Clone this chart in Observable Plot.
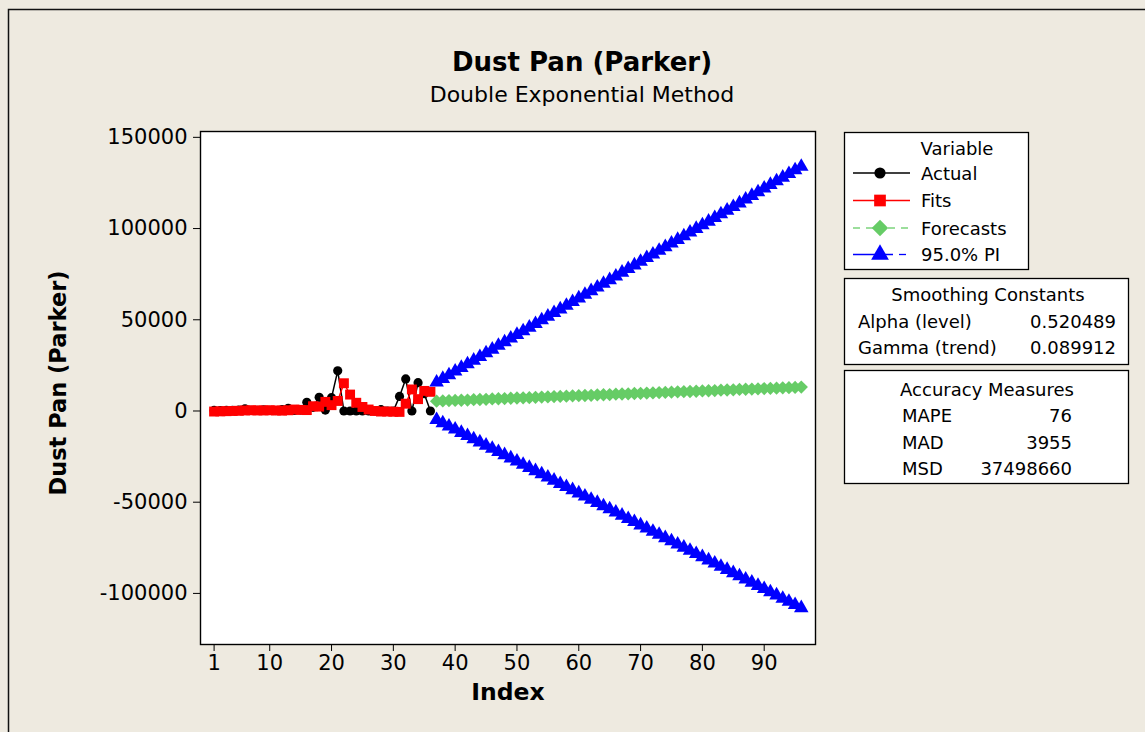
<!DOCTYPE html>
<html>
<head>
<meta charset="utf-8">
<script src="https://cdn.jsdelivr.net/npm/d3@7"></script>
<script src="https://cdn.jsdelivr.net/npm/@observablehq/plot@0.6"></script>
<style>
  html, body { margin: 0; padding: 0; background: #EEEAE0; }
  svg { display: block; }
</style>
</head>
<body>
<div id="chart"></div>
<script>
// ---- Data ----
const actual = [300, 200, 400, 300, 500, 1200, 300, 400, 600, 300, 200, 800, 1500, 300, 500,
  4800, 2000, 7500, 500, 7300, 22000, 0, 0, 0, 0, 0, 0, 700, 0, 0,
  8000, 17600, 0, 15500, 9500, 0];
const fits = [-300, -200, -100, 0, 100, 300, 400, 300, 300, 400, 300, 200, 400, 800, 600,
  500, 2600, 2400, 5000, 3200, 5500, 15200, 9000, 4500, 2200, 800, 0, -300, -300, -400,
  -500, 4000, 11800, 6500, 11000, 10500];
const forecastStart = 37;
const forecasts = [5400, 5500, 5700, 5800, 5900, 6000, 6200, 6300, 6400, 6600,
  6700, 6800, 7000, 7100, 7200, 7300, 7500, 7600, 7700, 7900,
  8000, 8100, 8300, 8400, 8500, 8600, 8800, 8900, 9000, 9200,
  9300, 9400, 9600, 9700, 9800, 9900, 10100, 10200, 10300, 10500,
  10600, 10700, 10800, 11000, 11100, 11200, 11400, 11500, 11600, 11800,
  11900, 12000, 12100, 12300, 12400, 12500, 12700, 12800, 12900, 13100];
const upperPI = [15700, 17700, 19700, 21700, 23700, 25700, 27700, 29700, 31700, 33700,
  35800, 37800, 39800, 41800, 43800, 45800, 47800, 49800, 51800, 53800,
  55800, 57800, 59800, 61800, 63800, 65800, 67800, 69800, 71800, 73800,
  75900, 77900, 79900, 81900, 83900, 85900, 87900, 89900, 91900, 93900,
  95900, 97900, 99900, 101900, 103900, 105900, 107900, 109900, 111900, 113900,
  116000, 118000, 120000, 122000, 124000, 126000, 128000, 130000, 132000, 134000];
const lowerPI = [-4900, -6600, -8400, -10100, -11900, -13600, -15400, -17100, -18900, -20600,
  -22400, -24100, -25900, -27600, -29400, -31100, -32900, -34600, -36400, -38100,
  -39900, -41600, -43300, -45100, -46800, -48600, -50300, -52100, -53800, -55600,
  -57300, -59100, -60800, -62600, -64300, -66100, -67800, -69600, -71300, -73100,
  -74800, -76500, -78300, -80000, -81800, -83500, -85300, -87000, -88800, -90500,
  -92300, -94000, -95800, -97500, -99300, -101000, -102800, -104500, -106300, -108000];
const xTicks = [1, 10, 20, 30, 40, 50, 60, 70, 80, 90];
const yTicks = [-100000, -50000, 0, 50000, 100000, 150000];

const title = "Dust Pan (Parker)";
const subtitle = "Double Exponential Method";
const xLabel = "Index";
const yLabel = "Dust Pan (Parker)";
const legendTitle = "Variable";
const seriesNames = ["Actual", "Fits", "Forecasts", "95.0% PI"];
const smoothingLabels = ["Alpha (level)", "Gamma (trend)"];
const smoothingValues = ["0.520489", "0.089912"];
const accuracyLabels = ["MAPE", "MAD", "MSD"];
const accuracyValues = ["76", "3955", "37498660"];

// ---- Build tables ----
const actualData = actual.map((v, k) => ({i: k + 1, v}));
const fitsData = fits.map((v, k) => ({i: k + 1, v}));
const fcData = forecasts.map((v, k) => ({i: k + forecastStart, v}));
const upData = upperPI.map((v, k) => ({i: k + forecastStart, v}));
const loData = lowerPI.map((v, k) => ({i: k + forecastStart, v}));

const colors = {actual: "#000000", fits: "#FF0000", fc: "#66CC66", pi: "#0000FF"};
const FONT = "DejaVu Sans, Verdana, sans-serif";
const R = {circle: 4.6, square: 5.6, diamond: 6.0, triangle: 5.4};
const RL = {circle: 5.6, square: 6.6, diamond: 7.4, triangle: 6.6};

const chart = Plot.plot({
  width: 1145, height: 732,
  marginLeft: 200, marginRight: 330, marginTop: 131, marginBottom: 88,
  style: {background: "#EEEAE0", color: "black", fontFamily: FONT, fontSize: "21px", overflow: "visible"},
  x: {domain: [-1.2, 98.3]},
  y: {domain: [-128000, 153200]},
  marks: [
    Plot.frame({fill: "white", stroke: null}),
    Plot.axisX({ticks: xTicks, tickSize: 7, tickPadding: 4, tickFormat: d => String(d), label: null, fontSize: 21}),
    Plot.axisY({ticks: yTicks, tickSize: 7, tickPadding: 6, tickFormat: d => String(d), label: null, fontSize: 21}),
    Plot.line(actualData, {x: "i", y: "v", stroke: colors.actual, strokeWidth: 1.5}),
    Plot.dot(actualData, {x: "i", y: "v", symbol: "circle", r: R.circle, fill: colors.actual, stroke: null}),
    Plot.line(fitsData, {x: "i", y: "v", stroke: colors.fits, strokeWidth: 1.5}),
    Plot.dot(fitsData, {x: "i", y: "v", symbol: "square", r: R.square, fill: colors.fits, stroke: null}),
    Plot.line(fcData, {x: "i", y: "v", stroke: colors.fc, strokeWidth: 1.5, strokeDasharray: "6,4"}),
    Plot.dot(fcData, {x: "i", y: "v", symbol: "diamond2", r: R.diamond, fill: colors.fc, stroke: null}),
    Plot.line(upData, {x: "i", y: "v", stroke: colors.pi, strokeWidth: 1.5, strokeDasharray: "6,4"}),
    Plot.dot(upData, {x: "i", y: "v", symbol: "triangle", r: R.triangle, fill: colors.pi, stroke: null}),
    Plot.line(loData, {x: "i", y: "v", stroke: colors.pi, strokeWidth: 1.5, strokeDasharray: "6,4"}),
    Plot.dot(loData, {x: "i", y: "v", symbol: "triangle", r: R.triangle, fill: colors.pi, stroke: null}),
    Plot.frame({stroke: "black", strokeWidth: 1.4})
  ]
});
document.getElementById("chart").appendChild(chart);

// ---- Decorations: titles, outer border, legend boxes ----
const svg = d3.select(chart);
const deco = svg.append("g").attr("font-family", FONT).attr("fill", "black").attr("text-anchor", "start");

// outer border (top/left visible, extends past the window)
deco.append("rect").attr("x", 8.5).attr("y", 9.5).attr("width", 1200).attr("height", 800)
  .attr("fill", "none").attr("stroke", "#111").attr("stroke-width", 1.5);

deco.append("text").attr("x", 582).attr("y", 62).attr("text-anchor", "middle")
  .attr("dominant-baseline", "central").attr("font-size", 26).attr("font-weight", "bold").text(title);
deco.append("text").attr("x", 582).attr("y", 94).attr("text-anchor", "middle")
  .attr("dominant-baseline", "central").attr("font-size", 22).text(subtitle);
deco.append("text").attr("x", 508).attr("y", 692).attr("text-anchor", "middle")
  .attr("dominant-baseline", "central").attr("font-size", 23.5).attr("font-weight", "bold").text(xLabel);
deco.append("text").attr("transform", "translate(58,383) rotate(-90)").attr("text-anchor", "middle")
  .attr("dominant-baseline", "central").attr("font-size", 22.5).attr("font-weight", "bold").text(yLabel);

const LF = 18;
// Box 1: Variable legend
deco.append("rect").attr("x", 844.5).attr("y", 132.5).attr("width", 184).attr("height", 137)
  .attr("fill", "white").attr("stroke", "black").attr("stroke-width", 1.3);
deco.append("text").attr("x", 957).attr("y", 148).attr("text-anchor", "middle")
  .attr("dominant-baseline", "central").attr("font-size", LF).text(legendTitle);
const rows = [
  {y: 173, color: colors.actual, sym: d3.symbolCircle, size: Math.PI * RL.circle * RL.circle, dash: null, name: seriesNames[0]},
  {y: 200.5, color: colors.fits, sym: d3.symbolSquare, size: Math.PI * RL.square * RL.square, dash: null, name: seriesNames[1]},
  {y: 228, color: colors.fc, sym: d3.symbolDiamond2, size: Math.PI * RL.diamond * RL.diamond, dash: "fc", name: seriesNames[2]},
  {y: 254.5, color: colors.pi, sym: d3.symbolTriangle, size: Math.PI * RL.triangle * RL.triangle, dash: "pi", name: seriesNames[3]}
];
rows.forEach(r => {
  if (r.dash === "pi") {
    deco.append("line").attr("x1", 853).attr("x2", 893).attr("y1", r.y).attr("y2", r.y).attr("stroke", r.color).attr("stroke-width", 1.3);
    deco.append("line").attr("x1", 899).attr("x2", 906).attr("y1", r.y).attr("y2", r.y).attr("stroke", r.color).attr("stroke-width", 1.3);
  } else if (r.dash === "fc") {
    [[853, 860], [866, 873], [888, 895], [901, 908]].forEach(([a, b]) =>
      deco.append("line").attr("x1", a).attr("x2", b).attr("y1", r.y).attr("y2", r.y).attr("stroke", r.color).attr("stroke-width", 1.3));
  } else {
    deco.append("line").attr("x1", 853).attr("x2", 910).attr("y1", r.y).attr("y2", r.y)
      .attr("stroke", r.color).attr("stroke-width", 1.3);
  }
  deco.append("path").attr("d", d3.symbol(r.sym, r.size)()).attr("transform", `translate(880,${r.y})`)
    .attr("fill", r.color);
  deco.append("text").attr("x", 921).attr("y", r.y).attr("text-anchor", "start").attr("dominant-baseline", "central")
    .attr("font-size", LF).text(r.name);
});

// Box 2: Smoothing Constants
deco.append("rect").attr("x", 844.5).attr("y", 278.5).attr("width", 284).attr("height", 86)
  .attr("fill", "white").attr("stroke", "black").attr("stroke-width", 1.3);
deco.append("text").attr("x", 988).attr("y", 294.5).attr("text-anchor", "middle")
  .attr("dominant-baseline", "central").attr("font-size", LF).text("Smoothing Constants");
smoothingLabels.forEach((s, k) => {
  const y = 321.5 + k * 26.3;
  deco.append("text").attr("x", 858).attr("y", y).attr("text-anchor", "start").attr("dominant-baseline", "central").attr("font-size", LF).text(s);
  deco.append("text").attr("x", 1116).attr("y", y).attr("text-anchor", "end").attr("dominant-baseline", "central").attr("font-size", LF).text(smoothingValues[k]);
});

// Box 3: Accuracy Measures
deco.append("rect").attr("x", 844.5).attr("y", 370.5).attr("width", 284).attr("height", 113)
  .attr("fill", "white").attr("stroke", "black").attr("stroke-width", 1.3);
deco.append("text").attr("x", 987).attr("y", 389).attr("text-anchor", "middle")
  .attr("dominant-baseline", "central").attr("font-size", LF).text("Accuracy Measures");
accuracyLabels.forEach((s, k) => {
  const y = 415.5 + k * 26.7;
  deco.append("text").attr("x", 902).attr("y", y).attr("text-anchor", "start").attr("dominant-baseline", "central").attr("font-size", LF).text(s);
  deco.append("text").attr("x", 1072).attr("y", y).attr("text-anchor", "end").attr("dominant-baseline", "central").attr("font-size", LF).text(accuracyValues[k]);
});
</script>
</body>
</html>
